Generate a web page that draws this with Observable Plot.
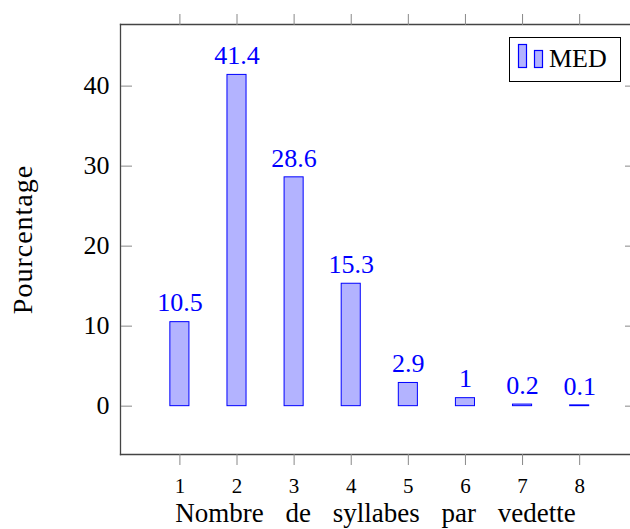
<!DOCTYPE html>
<html>
<head>
<meta charset="utf-8">
<script src="https://cdn.jsdelivr.net/npm/d3@7"></script>
<script src="https://cdn.jsdelivr.net/npm/@observablehq/plot@0.6"></script>
<style>
  body { margin: 0; background: #fff; }
  #wrap { position: relative; width: 630px; height: 529px; overflow: hidden; font-family: "Liberation Serif", serif; }
  #legend { position: absolute; left: 509px; top: 37px; width: 112px; height: 45px; border: 1px solid #000; background: #fff; box-sizing: border-box; }
  #legend svg { position: absolute; left: 0; top: 0; }
  #legend span { position: absolute; left: 39px; top: 6px; font-size: 26px; line-height: 30px; color: #000; }
</style>
</head>
<body>
<div id="wrap"></div>
<script>
const syllables = [1, 2, 3, 4, 5, 6, 7, 8];
const percentages = [10.5, 41.4, 28.6, 15.3, 2.9, 1, 0.2, 0.1];
const yTicks = [0, 10, 20, 30, 40];
const seriesName = "MED";
const xLabel = "Nombre de syllabes par vedette";
const yLabel = "Pourcentage";

const data = syllables.map((s, i) => ({x: s, v: percentages[i]}));
const fill = "rgb(179,179,255)";
const blue = "#0000ff";
const W = 630, ML = 120, MR = 0;
const innerW = W - ML - MR;
const halfBar = 0.167;

const plot = Plot.plot({
  width: W,
  height: 529,
  marginLeft: ML,
  marginRight: MR,
  marginTop: 24,
  marginBottom: 75,
  style: {fontFamily: "Liberation Serif, serif", background: "#fff", overflow: "hidden"},
  x: {type: "linear", domain: [-0.04, 8.89]},
  y: {domain: [-6.04, 47.7]},
  marks: [
    Plot.rectY(data, {x1: d => d.x - halfBar, x2: d => d.x + halfBar, y1: 0, y2: "v", fill: fill, stroke: blue, strokeWidth: 1}),
    Plot.text(data, {x: "x", y: "v", text: d => String(d.v), dy: -19, fill: blue, fontSize: 26, lineAnchor: "middle"}),
    // frame sides
    Plot.frame({anchor: "left", stroke: "#444", strokeWidth: 1.3}),
    Plot.frame({anchor: "top", stroke: "#444", strokeWidth: 1.3}),
    Plot.frame({anchor: "bottom", stroke: "#444", strokeWidth: 1.3}),
    // x ticks (outward, top and bottom)
    Plot.axisX(syllables, {anchor: "bottom", tickSize: 11, text: null, stroke: "#888", strokeWidth: 1, label: null}),
    Plot.axisX(syllables, {anchor: "top", tickSize: 11, text: null, stroke: "#888", strokeWidth: 1, label: null}),
    Plot.axisX(syllables, {anchor: "bottom", tickSize: 0, tickPadding: 24, fontSize: 21, fill: "#000", label: null}),
    // y ticks (inward, left and right)
    Plot.axisY(yTicks, {anchor: "right", tickSize: 11, text: null, stroke: "#888", strokeWidth: 1, dx: -innerW, label: null}),
    Plot.axisY(yTicks, {anchor: "left", tickSize: 5, text: null, stroke: "#888", strokeWidth: 1, dx: innerW, label: null}),
    Plot.axisY(yTicks, {anchor: "left", tickSize: 0, tickPadding: 11, fontSize: 26, fill: "#000", label: null}),
    // axis labels
    Plot.text([xLabel], {frameAnchor: "bottom", dy: 59, fontSize: 27, lineAnchor: "middle", textAnchor: "middle", fill: "#000", className: "xlab"}),
    Plot.text([yLabel], {frameAnchor: "left", rotate: -90, dx: -97, fontSize: 28, lineAnchor: "middle", textAnchor: "middle", fill: "#000", className: "ylab"})
  ]
});

d3.select(plot).selectAll(".xlab text").style("word-spacing", "15px");
d3.select(plot).selectAll(".ylab text").style("letter-spacing", "1px");

const wrap = document.getElementById("wrap");
wrap.appendChild(plot);

const legend = document.createElement("div");
legend.id = "legend";
legend.innerHTML = `<svg width="112" height="45">
  <rect x="8.5" y="6.5" width="8" height="23" fill="${fill}" stroke="${blue}" stroke-width="1.2"></rect>
  <rect x="24.5" y="12.5" width="8" height="17" fill="${fill}" stroke="${blue}" stroke-width="1.2"></rect>
</svg><span>${seriesName}</span>`;
wrap.appendChild(legend);
</script>
</body>
</html>
